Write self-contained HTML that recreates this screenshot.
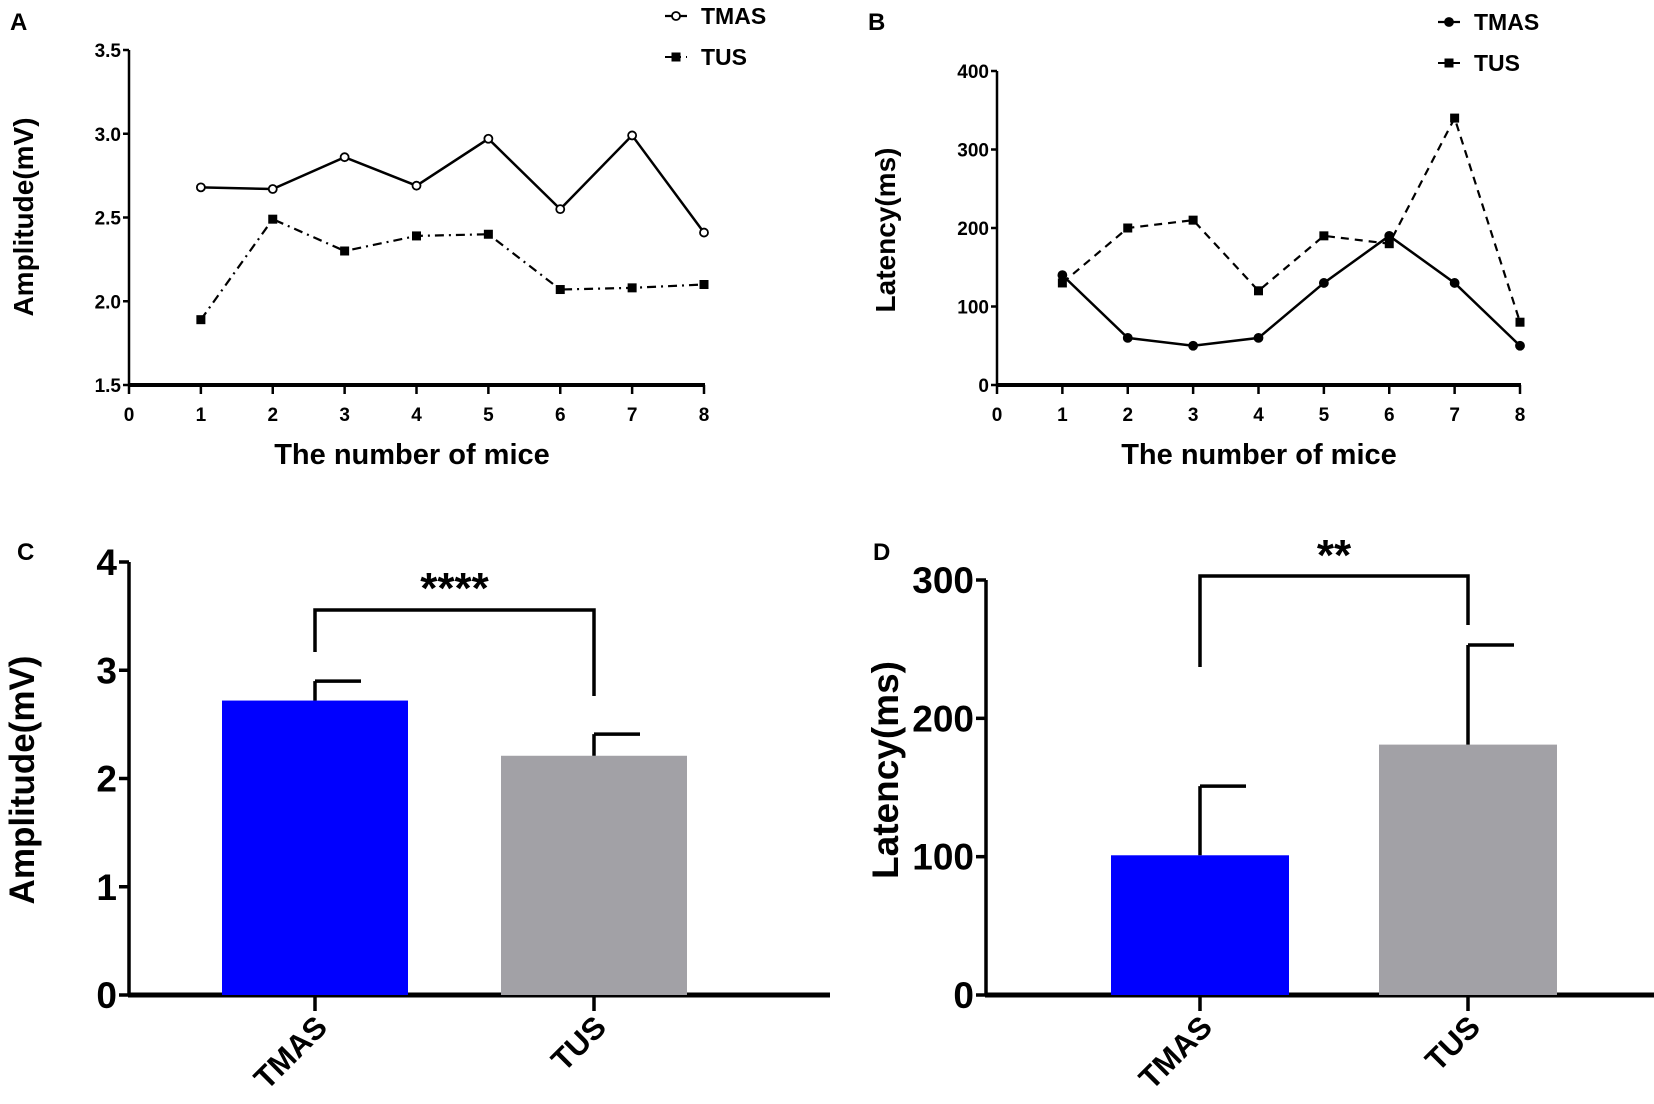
<!DOCTYPE html>
<html><head><meta charset="utf-8"><style>
body{margin:0;background:#fff}
svg{display:block}
text{font-family:"Liberation Sans",sans-serif;font-weight:bold;fill:#000}
</style></head><body>
<svg id="fig" width="1654" height="1104" viewBox="0 0 1654 1104"></svg>
<script>
const mice=[1,2,3,4,5,6,7,8];
const ampTMAS=[2.68,2.67,2.86,2.69,2.97,2.55,2.99,2.41];
const ampTUS=[1.89,2.49,2.30,2.39,2.40,2.07,2.08,2.10];
const latTMAS=[140,60,50,60,130,190,130,50];
const latTUS=[130,200,210,120,190,180,340,80];
const groups=["TMAS","TUS"];
const ampMean=[2.72,2.21];
const ampErr=[0.18,0.20];
const latMean=[101,181];
const latErr=[50,72];
const ticksA=[1.5,2.0,2.5,3.0,3.5];
const ticksB=[0,100,200,300,400];
const ticksC=[0,1,2,3,4];
const ticksD=[0,100,200,300];
const xTicks=[0,1,2,3,4,5,6,7,8];

const svg=document.getElementById('fig');
const NS='http://www.w3.org/2000/svg';
function el(tag,attrs,txt){const e=document.createElementNS(NS,tag);for(const k in attrs)e.setAttribute(k,attrs[k]);if(txt!==undefined)e.textContent=txt;svg.appendChild(e);return e;}
function line(x1,y1,x2,y2,w,name,dash){const e=el('line',{x1,y1,x2,y2,stroke:'#000','stroke-width':w});if(dash)e.setAttribute('stroke-dasharray',dash);


return e;}
function text(x,y,s,size,name,anchor){const e=el('text',{x,y,'font-size':size,'text-anchor':anchor||'middle'},s);


return e;}

function linePanel(o){
  const sx=v=>o.x0+(v/8)*(o.x1-o.x0);
  const sy=v=>o.yb-(v-o.vmin)/(o.vmax-o.vmin)*(o.yb-o.yt);
  text(o.lx,o.ly,o.letter,24,'panel-label-'+o.letter,'start');
  line(o.x0,o.yt,o.x0,o.yb,2.5,'y-axis');
  line(o.x0-1,o.yb,o.x1+1,o.yb,4,'x-axis');
  o.yticks.forEach(t=>{line(o.x0-6,sy(t),o.x0,sy(t),2.5,'y-tick');text(o.x0-8,sy(t)+7,o.fmt(t),19,'y-tick-label','end');});
  xTicks.forEach(t=>{line(sx(t),o.yb,sx(t),o.yb+9,2.5,'x-tick');text(sx(t),o.yb+36,String(t),19,'x-tick-label');});
  const yt=text(0,0,o.ytitle,28,'y-axis-title','middle');yt.setAttribute('transform',`translate(${o.ytx},${o.yty}) rotate(-90)`);
  text(o.xtc,464,'The number of mice',29,'x-axis-title');
  const s1=mice.map((m,i)=>sx(m)+','+sy(o.a[i])).join(' ');
  const p1=el('polyline',{points:s1,fill:'none',stroke:'#000','stroke-width':2.5});
  
  
  const s2=mice.map((m,i)=>sx(m)+','+sy(o.b[i])).join(' ');
  const p2=el('polyline',{points:s2,fill:'none',stroke:'#000','stroke-width':2.2,'stroke-dasharray':o.dash});
  
  
  mice.forEach((m,i)=>{
    const c=el('circle',{cx:sx(m),cy:sy(o.a[i]),r:4,fill:o.open?'#fff':'#000',stroke:'#000','stroke-width':1.8});
    
    
    const r=el('rect',{x:sx(m)-4.5,y:sy(o.b[i])-4.5,width:9,height:9,fill:'#000'});
    
    
  });
  line(o.lgx,o.lg1,o.lgx+22,o.lg1,2.2,'legend-tmas-line');
  const lc=el('circle',{cx:o.lgx+11,cy:o.lg1,r:4,fill:o.open?'#fff':'#000',stroke:'#000','stroke-width':1.8});
  
  
  text(o.lgx+36,o.lg1+8,'TMAS',23,'legend-tmas-label','start');
  line(o.lgx,o.lg2,o.lgx+22,o.lg2,2,'legend-tus-line',o.dash);
  const lr=el('rect',{x:o.lgx+6.5,y:o.lg2-4.5,width:9,height:9,fill:'#000'});
  
  
  text(o.lgx+36,o.lg2+8,'TUS',23,'legend-tus-label','start');
}
linePanel({letter:'A',lx:10,ly:30,x0:129,x1:704,yt:50,yb:385,vmin:1.5,vmax:3.5,yticks:ticksA,fmt:t=>t.toFixed(1),
  ytitle:'Amplitude(mV)',ytx:33,yty:217,xtc:412,a:ampTMAS,b:ampTUS,dash:'9 5 2 5',open:true,lgx:665,lg1:16,lg2:57});
linePanel({letter:'B',lx:868,ly:30,x0:997,x1:1520,yt:71,yb:385,vmin:0,vmax:400,yticks:ticksB,fmt:t=>String(t),
  ytitle:'Latency(ms)',ytx:895,yty:230,xtc:1259,a:latTMAS,b:latTUS,dash:'8 6',open:false,lgx:1438,lg1:22,lg2:63});

function barPanel(o){
  const sy=v=>o.yb-(v/o.vmax)*(o.yb-o.yt);
  text(o.lx,o.ly,o.letter,24,'panel-label-'+o.letter,'start');
  line(o.x0,o.yt,o.x0,o.yb,3.5,'y-axis');
  line(o.x0-1,o.yb,o.xr,o.yb,5,'x-axis');
  o.yticks.forEach(t=>{line(o.x0-10,sy(t),o.x0,sy(t),3.5,'y-tick');text(o.x0-12,sy(t)+13,String(t),37,'y-tick-label','end');});
  const yt=text(0,0,o.ytitle,o.yts,'y-axis-title','middle');yt.setAttribute('transform',`translate(${o.ytx},${o.yty}) rotate(-90)`);
  groups.forEach((g,i)=>{
    const [bx1,bx2]=o.bars[i];const cx=(bx1+bx2)/2;
    const r=el('rect',{x:bx1,y:sy(o.mean[i]),width:bx2-bx1,height:o.yb-sy(o.mean[i]),fill:i?'#a2a1a6':'#0000ff'});
    
    
    line(cx,sy(o.mean[i]),cx,sy(o.mean[i]+o.err[i]),3.5,'error-bar-'+g.toLowerCase());
    line(cx,sy(o.mean[i]+o.err[i]),cx+46,sy(o.mean[i]+o.err[i]),3.5,'error-cap-'+g.toLowerCase());
    line(cx,o.yb,cx,o.yb+16,3.5,'x-tick');
    const lab=text(0,0,g,31,'x-label-'+g.toLowerCase(),'end');
    lab.setAttribute('transform',`translate(${cx+14},${o.yb+34}) rotate(-45)`);
  });
  const [l,r]=[(o.bars[0][0]+o.bars[0][1])/2,(o.bars[1][0]+o.bars[1][1])/2];
  const p=el('polyline',{points:`${l},${o.bl} ${l},${o.by} ${r},${o.by} ${r},${o.br}`,fill:'none',stroke:'#000','stroke-width':3.5});
  
  
  text((l+r)/2,o.sy,o.stars,44,'significance-stars','middle');
}
barPanel({letter:'C',lx:17,ly:560,x0:129,xr:830,yt:562,yb:995,vmax:4,yticks:ticksC,ytitle:'Amplitude(mV)',yts:35,ytx:34,yty:780,
  bars:[[222,408],[501,687]],mean:ampMean,err:ampErr,by:610,bl:652,br:696,sy:603,stars:'****'});
barPanel({letter:'D',lx:873,ly:560,x0:986,xr:1654,yt:580,yb:995,vmax:300,yticks:ticksD,ytitle:'Latency(ms)',yts:37,ytx:898,yty:770,
  bars:[[1111,1289],[1379,1557]],mean:latMean,err:latErr,by:576,bl:667,br:625,sy:570,stars:'**'});
</script>
</body></html>
